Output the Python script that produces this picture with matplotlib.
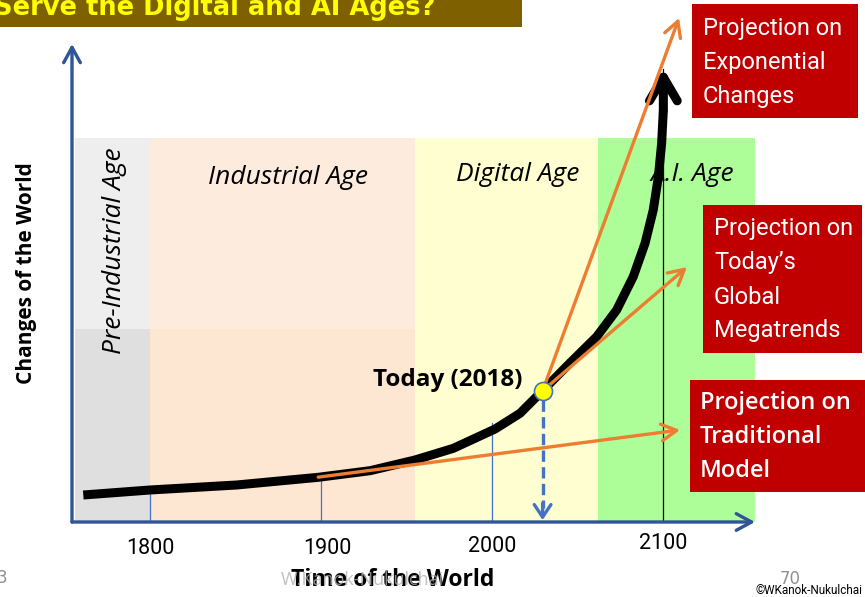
import matplotlib
matplotlib.use("Agg")
import matplotlib.pyplot as plt
from matplotlib.patches import Rectangle

# ---- data (x in years, y in arbitrary "change" units) ----
curve_years = [1761.0, 1800, 1850.7, 1898.4, 1928.7, 1955.0, 1977.4, 2001.8,
               2016.4, 2029.6, 2045.6, 2061.2, 2072.9, 2082.6, 2089.5, 2094.3,
               2097.3, 2099.2, 2100.2, 2100.2]
curve_values = [5.72, 6.78, 7.84, 9.47, 10.87, 13.14, 15.61, 19.7,
                23.03, 27.82, 33.69, 39.26, 44.92, 51.97, 59.05, 66.1,
                73.16, 80.23, 87.29, 96.12]

age_names = ["Pre-Industrial Age", "Industrial Age", "Digital Age", "A.I. Age"]
age_starts = [1756, 1800, 1955, 2062]
age_ends = [1800, 1955, 2062, 2154]
age_upper_colors = ["#eeeeee", "#fdecdd", "#fefed0", "#adfe98"]
age_lower_colors = ["#dfdfdf", "#fde6d2", "#fefed0", "#adfe98"]
band_top = 81.4
band_split = 40.9

tick_years = [1800, 1900, 2000, 2100]
drop_tops = [6.0, 9.7, 20.9, 96.0]
drop_colors = ["#4472c4", "#4472c4", "#4472c4", "black"]

today_year, today_value = 2029.6, 27.8
# projections: (start year, start value, end year, end value)
proj_exponential = (today_year, today_value, 2109.4, 106.8)
proj_megatrends = (today_year, today_value, 2114, 54.0)
proj_traditional = (1898.4, 9.5, 2110, 19.5)

W, H = 865, 597
fig = plt.figure(figsize=(W / 100, H / 100), dpi=100)

ax = fig.add_axes([72 / W, (H - 522) / H, (755 - 72) / W, 522 / H])
ax.set_xlim(1754.4, 2153.8)
ax.set_ylim(0, 110.6)
ax.axis("off")
ax.patch.set_alpha(0)

# age bands
for s, e, cu, cl in zip(age_starts, age_ends, age_upper_colors, age_lower_colors):
    ax.add_patch(Rectangle((s, band_split), e - s, band_top - band_split, color=cu, lw=0, zorder=0))
    ax.add_patch(Rectangle((s, 0), e - s, band_split, color=cl, lw=0, zorder=0))

italic = dict(family=["Open Sans", "DejaVu Sans"], style="italic", fontsize=19)
ax.text((age_starts[0] + age_ends[0]) / 2 + 1, 57.5, age_names[0], rotation=90,
        ha="center", va="center", **italic)
ax.text(1881, 73.0, age_names[1], ha="center", va="center", **italic)
ax.text(2015, 73.6, age_names[2], ha="center", va="center", **italic)
ax.text(2117, 73.6, age_names[3], ha="center", va="center", **italic)

# drop lines
for yr, top, c in zip(tick_years, drop_tops, drop_colors):
    ax.plot([yr, yr], [0, top], color=c, lw=0.9, zorder=2)

# main curve
ax.plot(curve_years[:-1], curve_values[:-1], color="black", lw=6.5,
        solid_capstyle="butt", solid_joinstyle="round", zorder=4)
ax.annotate("", xy=(curve_years[-1], curve_values[-1]),
            xytext=(curve_years[-2], curve_values[-2]),
            arrowprops=dict(arrowstyle="->,head_length=0.85,head_width=0.5",
                            lw=6.5, color="black", shrinkA=0, shrinkB=0,
                            mutation_scale=20), zorder=4)

# projections
orange = "#ed7d31"
for x0, y0, x1, y1 in [proj_exponential, proj_megatrends, proj_traditional]:
    ax.annotate("", xy=(x1, y1), xytext=(x0, y0),
                arrowprops=dict(arrowstyle="->,head_length=0.55,head_width=0.3",
                                lw=2.4, color=orange, shrinkA=0, shrinkB=0,
                                mutation_scale=20), zorder=5, annotation_clip=False)

# today marker + dashed arrow
ax.plot([today_year, today_year], [today_value - 2, 3], color="#4472c4", lw=2.4,
        ls=(0, (3.4, 1.6)), zorder=3)
ax.annotate("", xy=(today_year, 0.4), xytext=(today_year, 4),
            arrowprops=dict(arrowstyle="->,head_length=0.45,head_width=0.3",
                            lw=2.4, color="#4472c4", shrinkA=0, shrinkB=0,
                            mutation_scale=20), zorder=3)
ax.plot([today_year], [today_value], "o", ms=13, mfc="#ffff00", mec="#4472c4",
        mew=1.2, zorder=6)
ax.text(today_year - 12, today_value + 2.2, "Today (2018)", ha="right", va="center",
        family=["Open Sans", "DejaVu Sans"], fontweight="bold", fontsize=17.5)

# axes arrows
axis_blue = "#2f5597"
ax.annotate("", xy=(1754.4, 101.3), xytext=(1754.4, 0),
            arrowprops=dict(arrowstyle="->,head_length=0.55,head_width=0.3",
                            lw=2.4, color=axis_blue, shrinkA=0, shrinkB=0,
                            mutation_scale=20), annotation_clip=False, zorder=7)
ax.annotate("", xy=(2153.8, 0), xytext=(1754.4, 0),
            arrowprops=dict(arrowstyle="->,head_length=0.55,head_width=0.3",
                            lw=2.4, color=axis_blue, shrinkA=0, shrinkB=0,
                            mutation_scale=20), annotation_clip=False, zorder=7)

# tick labels
tick_offsets = [-5.6, -5.6, -5.2, -4.5]
for yr, off in zip(tick_years, tick_offsets):
    ax.text(yr + (4 if yr == 1900 else 0), off, str(yr), ha="center", va="center",
            family=["Roboto", "DejaVu Sans"], fontsize=15.5, clip_on=False)

# ---- overlay in pixel coordinates: boxes and slide furniture ----
ov = fig.add_axes([0, 0, 1, 1], zorder=5)
ov.set_xlim(0, W)
ov.set_ylim(H, 0)
ov.axis("off")
ov.patch.set_alpha(0)

red = "#c00000"
narrow = ["Roboto", "DejaVu Sans"]
boxes = [
    ((692, 4, 166, 114), ["Projection on", "Exponential", "Changes"], narrow, "normal", 17, 703, 28),
    ((703, 205, 159, 148), ["Projection on", "Today's", "Global", "Megatrends"], narrow, "normal", 17, 714, 229),
    ((690, 380, 175, 112), ["Projection on", "Traditional", "Model"], ["Open Sans", "DejaVu Sans"], "semibold", 17, 700, 403),
]
for (bx, by, bw, bh), lines, fam, fw, fs, tx, ty in boxes:
    ov.add_patch(Rectangle((bx, by), bw, bh, color=red, lw=0))
    for i, line in enumerate(lines):
        ov.text(tx, ty + i * 34, line.replace("'", "\u2019"), color="white",
                family=fam, fontweight=fw, fontsize=fs, ha="left", va="center")

# title strip
ov.add_patch(Rectangle((0, 0), 522, 27, color="#7f6000", lw=0))
ov.text(-6, 15, "Serve the Digital and AI Ages?", color="#ffff00", fontsize=18.5,
        family=["DejaVu Sans"], fontweight="bold", ha="left", va="baseline")

# axis titles
ov.text(27, 273, "Changes of the World", rotation=90, ha="center", va="center",
        family=["Open Sans", "DejaVu Sans"], fontweight="bold", fontsize=15)
ov.text(393, 580, "Time of the World", ha="center", va="center",
        family=["Open Sans", "DejaVu Sans"], fontweight="bold", fontsize=16.5)
ov.text(362, 580, "W.Kanok-Nukulchai", ha="center", va="center", color="#b0b0b0",
        alpha=0.8, family=["Open Sans", "DejaVu Sans"], fontsize=13)
ov.text(-3, 578, "3", color="#909090", fontsize=12, ha="left", va="center")
ov.text(790, 579, "70", color="#909090", fontsize=12, ha="center", va="center")
ov.text(862, 590, "\u00a9WKanok-Nukulchai", color="black", fontsize=8.5,
        family=["Roboto", "DejaVu Sans"], ha="right", va="center")

fig.savefig("out.png", dpi=100)
